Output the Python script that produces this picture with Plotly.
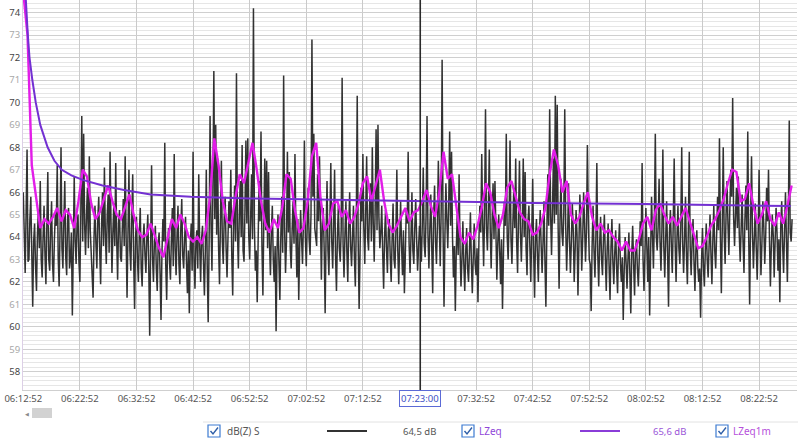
import plotly.graph_objects as go
from datetime import datetime, timedelta

# ---------------- data ----------------
START = "2021-01-01 06:12:52"
DBZ_STEP_S = 10
LZEQ1M_STEP_S = 45

dbz_s = [
    66.0, 64.2, 62.4, 65.1, 67.9, 62.9, 63.0, 64.8, 65.8, 63.3, 60.9, 63.8, 64.6, 62.7, 61.6, 64.1, 65.2, 63.5, 66.5, 63.0,
    62.2, 64.0, 65.4, 63.2, 61.9, 64.6, 66.9, 63.0, 62.5, 64.3, 65.6, 62.8, 62.0, 63.9, 65.1, 64.5, 67.2, 63.1, 61.8, 64.4,
    68.0, 63.5, 62.6, 64.7, 66.5, 63.1, 62.3, 64.9, 65.3, 62.6, 63.0, 64.2, 60.5, 63.4, 66.7, 63.8, 62.8, 64.6, 65.0, 62.9,
    62.0, 65.1, 69.4, 63.8, 68.6, 64.6, 63.2, 65.0, 66.2, 63.5, 67.6, 64.3, 63.0, 62.5, 61.3, 64.0, 65.4, 63.7, 62.6, 64.8,
    65.8, 63.4, 61.9, 64.5, 66.0, 63.6, 67.1, 64.1, 62.8, 65.0, 65.9, 63.3, 67.8, 64.6, 62.4, 64.2, 65.5, 63.6, 67.3, 63.9,
    62.1, 64.6, 65.2, 63.1, 62.9, 64.4, 65.7, 63.6, 67.6, 64.0, 61.3, 64.2, 67.0, 63.4, 62.5, 64.8, 66.8, 63.0, 60.8, 63.9,
    64.9, 63.0, 62.0, 64.1, 65.3, 62.6, 61.8, 63.9, 64.6, 63.2, 62.4, 64.0, 65.0, 62.7, 59.6, 63.5, 67.2, 63.1, 62.0, 63.8,
    64.5, 62.6, 61.6, 63.7, 64.2, 62.4, 60.3, 63.3, 64.8, 63.8, 68.2, 62.8, 61.2, 63.6, 64.4, 62.9, 62.1, 63.9, 65.3, 62.7,
    67.7, 63.5, 62.3, 64.1, 65.4, 62.8, 61.9, 64.4, 65.7, 63.2, 62.6, 63.9, 64.9, 62.9, 61.5, 63.4, 60.6, 63.6, 64.6, 62.5,
    67.8, 63.0, 61.7, 63.8, 64.3, 62.6, 66.8, 63.6, 62.0, 63.9, 64.5, 62.9, 61.4, 63.4, 67.0, 62.7, 60.2, 63.8, 69.4, 64.6,
    62.5, 66.0, 71.4, 64.8, 69.0, 64.1, 67.5, 63.6, 61.9, 64.6, 67.4, 63.8, 62.8, 64.9, 65.8, 63.5, 62.2, 64.0, 65.6, 64.4,
    67.0, 63.2, 61.4, 64.5, 66.3, 63.8, 71.3, 64.3, 62.6, 65.0, 66.5, 64.0, 68.1, 63.4, 62.9, 65.2, 68.3, 64.6, 68.4, 64.1,
    63.0, 64.8, 66.8, 63.9, 74.2, 64.5, 62.5, 63.4, 61.1, 63.9, 66.5, 64.7, 68.7, 63.6, 61.4, 64.8, 67.5, 64.3, 67.4, 63.5,
    66.9, 63.7, 62.3, 64.2, 65.4, 63.0, 62.0, 63.6, 59.8, 63.4, 65.0, 62.9, 61.2, 64.0, 65.8, 63.3, 71.2, 64.4, 62.4, 63.8,
    67.8, 64.2, 66.9, 63.5, 62.6, 64.3, 65.6, 63.7, 67.7, 64.1, 62.2, 64.8, 61.2, 63.6, 65.2, 63.9, 62.8, 64.7, 68.3, 64.0,
    62.7, 64.5, 66.2, 63.9, 63.2, 65.0, 72.8, 65.8, 68.6, 64.4, 64.0, 63.6, 66.8, 64.7, 67.6, 63.8, 62.1, 64.6, 65.3, 63.4,
    60.6, 64.2, 66.5, 63.4, 62.3, 64.7, 67.3, 63.8, 62.6, 64.5, 67.0, 63.2, 61.6, 64.0, 65.4, 63.5, 62.9, 64.3, 71.1, 63.7,
    62.2, 64.1, 65.6, 63.4, 62.0, 64.4, 66.0, 63.6, 62.7, 64.0, 65.4, 63.1, 61.8, 64.5, 70.3, 63.9, 60.8, 63.3, 66.2, 64.7,
    67.7, 64.4, 62.8, 65.1, 67.6, 64.0, 63.4, 65.3, 66.4, 63.8, 68.0, 64.6, 62.9, 65.2, 68.8, 64.3, 69.0, 64.9, 63.5, 64.2,
    65.4, 63.3, 61.7, 64.0, 65.2, 63.5, 62.4, 64.3, 64.8, 63.1, 62.0, 63.9, 65.5, 63.0, 62.6, 64.2, 67.0, 63.4, 61.9, 63.8,
    65.6, 63.6, 62.3, 64.3, 61.5, 63.2, 65.3, 64.6, 67.8, 63.7, 62.4, 64.0, 66.0, 63.4, 62.8, 64.4, 65.7, 63.9, 62.5, 63.5,
    64.5, 64.0, 62.9, 64.6, 67.1, 63.7, 63.1, 65.0, 69.4, 64.1, 62.6, 64.4, 65.9, 63.6, 61.5, 64.9, 66.3, 63.8, 62.8, 64.5,
    67.4, 64.6, 62.7, 65.2, 71.9, 64.3, 60.9, 64.1, 66.4, 64.8, 63.5, 65.4, 68.7, 64.5, 67.8, 64.0, 62.2, 63.6, 60.7, 63.4,
    65.0, 63.2, 66.8, 63.5, 61.8, 63.0, 64.7, 62.8, 61.6, 63.3, 64.4, 62.6, 62.0, 63.4, 65.1, 62.9, 61.5, 63.1, 64.6, 62.8,
    62.3, 63.5, 61.1, 63.8, 65.4, 64.2, 67.7, 64.6, 62.7, 65.0, 69.7, 64.4, 63.4, 65.1, 67.9, 64.3, 62.6, 64.7, 66.4, 63.9,
    66.5, 64.3, 62.1, 63.7, 65.0, 63.4, 61.9, 63.9, 60.8, 63.2, 65.6, 64.5, 68.6, 64.0, 63.0, 64.8, 68.3, 63.9, 62.8, 64.6,
    66.2, 64.4, 67.5, 63.8, 62.4, 64.9, 67.4, 64.2, 62.9, 64.6, 67.5, 64.0, 66.9, 63.5, 62.3, 64.7, 65.4, 63.6, 62.0, 64.1,
    66.6, 63.4, 61.3, 63.9, 64.8, 63.2, 62.0, 64.0, 65.2, 63.6, 62.4, 63.8, 65.6, 62.9, 60.9, 64.2, 66.8, 64.5, 69.7, 65.0,
    63.2, 65.3, 67.5, 64.6, 70.3, 65.0, 69.9, 64.4, 61.7, 64.8, 66.6, 64.2, 63.6, 65.1, 69.7, 64.5, 62.5, 64.0, 66.4, 63.9,
    62.4, 63.8, 65.5, 64.3, 62.0, 63.4, 65.2, 64.1, 61.4, 63.6, 65.9, 64.5, 62.5, 63.9, 66.0, 64.6, 62.9, 64.2, 68.1, 64.8,
    63.0, 62.8, 60.7, 63.6, 65.4, 63.4, 62.2, 64.0, 67.3, 63.2, 61.8, 63.7, 64.9, 63.0, 62.3, 63.9, 65.0, 63.1, 61.6, 63.5,
    64.6, 62.7, 61.2, 63.5, 64.8, 62.9, 61.9, 63.3, 64.3, 62.6, 61.5, 63.6, 64.6, 62.8, 62.0, 63.1, 60.3, 62.5, 64.0, 62.9,
    61.7, 63.0, 64.2, 62.4, 60.6, 63.2, 64.5, 62.8, 61.4, 63.4, 63.9, 62.6, 61.8, 63.1, 64.7, 63.6, 67.3, 63.0, 61.6, 63.3,
    65.3, 63.6, 62.0, 64.0, 60.5, 63.2, 65.8, 64.1, 62.6, 64.7, 68.6, 64.0, 63.4, 64.5, 66.6, 63.8, 62.5, 64.3, 67.9, 63.6,
    62.2, 63.9, 65.6, 63.3, 60.9, 64.2, 65.2, 63.6, 62.4, 64.6, 67.5, 63.8, 62.0, 64.0, 65.4, 63.5, 62.8, 64.4, 68.0, 63.7,
    62.4, 63.9, 65.8, 63.2, 61.9, 64.3, 67.8, 63.5, 62.3, 63.8, 64.8, 62.9, 61.6, 63.4, 64.3, 62.7, 62.0, 62.6, 60.4, 62.9,
    64.4, 62.7, 61.8, 63.4, 64.6, 63.0, 62.2, 63.6, 65.0, 63.2, 61.9, 63.9, 65.4, 63.4, 62.6, 64.1, 65.8, 64.3, 68.4, 64.0,
    61.5, 64.5, 68.0, 64.2, 62.8, 65.0, 66.5, 64.6, 63.2, 65.3, 67.0, 65.8, 70.2, 64.9, 63.6, 65.0, 66.2, 64.4, 66.7, 64.1,
    62.9, 64.4, 65.9, 63.8, 62.4, 64.8, 66.3, 64.3, 68.7, 64.0, 61.0, 64.6, 67.6, 64.2, 62.6, 63.9, 65.5, 63.5, 62.1, 64.0,
    67.0, 64.2, 62.3, 63.7, 65.6, 64.5, 62.8, 64.0, 66.2, 64.7, 67.0, 63.9, 61.8, 63.6, 65.0, 64.1, 62.2, 63.8, 65.3, 64.2,
    62.5, 63.9, 61.1, 64.5, 65.6, 63.6, 62.4, 64.3, 66.0, 63.8, 62.0, 64.6, 69.2, 64.2, 63.8, 64.8,
]

lzeq1m = [
    74.9, 73.0, 67.2, 65.7, 64.4, 64.8, 64.6, 64.9, 65.3, 64.7,
    65.2, 65.0, 64.4, 65.6, 67.0, 66.7, 65.5, 64.8, 65.1, 65.7,
    66.3, 65.6, 65.0, 64.8, 65.4, 65.9, 65.0, 64.3, 64.0, 64.1,
    64.6, 64.0, 63.5, 63.1, 64.0, 64.8, 64.4, 65.0, 64.6, 64.0,
    63.8, 64.0, 63.7, 64.3, 65.8, 68.4, 67.2, 65.6, 64.7, 64.6,
    65.8, 66.8, 66.4, 67.3, 68.2, 67.0, 65.6, 64.6, 64.2, 64.8,
    64.4, 65.3, 66.8, 66.6, 65.2, 64.2, 64.4, 65.6, 67.6, 68.2,
    65.8, 64.3, 64.6, 65.5, 65.6, 64.9, 65.2, 64.6, 64.9, 65.5,
    66.4, 66.7, 65.6, 66.3, 67.0, 65.6, 64.6, 64.2, 64.5, 64.9,
    65.3, 64.7, 65.1, 65.2, 65.6, 66.1, 65.4, 64.9, 66.0, 67.8,
    66.6, 66.8, 65.4, 64.0, 63.7, 64.2, 63.9, 64.5, 65.3, 66.4,
    66.0, 65.0, 64.4, 65.0, 66.2, 66.5, 65.8, 65.1, 64.8, 64.7,
    64.1, 64.2, 64.6, 65.3, 66.8, 67.9, 67.2, 66.0, 66.5, 65.0,
    64.6, 64.9, 65.5, 66.0, 64.9, 64.3, 64.6, 64.2, 64.3, 64.0,
    63.8, 63.4, 63.8, 63.4, 63.4, 63.9, 64.6, 64.9, 64.3, 65.2,
    65.5, 65.0, 64.6, 64.9, 64.5, 64.9, 65.3, 64.7, 64.1, 63.5,
    63.6, 64.0, 64.5, 64.8, 65.2, 65.7, 66.4, 67.0, 66.9, 65.6,
    65.7, 66.4, 65.4, 64.6, 65.0, 65.6, 64.8, 64.5, 65.1, 64.6,
    65.4, 66.3,
]

lzeq_minutes = [0, 0.4, 0.8, 1.1, 1.6, 2.2, 3.0, 4.3, 5.5, 6.8, 8.5,
                10.5, 14, 17.8, 22.5, 29.6, 40, 55, 70, 90, 110, 135.6]
lzeq_values = [76.0, 74.8, 73.0, 72.0, 71.0, 70.0, 69.0, 68.0, 67.4, 67.0, 66.75,
               66.55, 66.3, 66.1, 65.9, 65.8, 65.72, 65.65, 65.6, 65.52, 65.47, 65.38]

x_tick_labels = ["06:12:52", "06:22:52", "06:32:52", "06:42:52", "06:52:52",
                 "07:02:52", "07:12:52", "07:32:52", "07:42:52", "07:52:52",
                 "08:02:52", "08:12:52", "08:22:52"]
y_tick_values = list(range(58, 75))
cursor_label = "07:23:00"
series_names = ["dB(Z) S", "LZeq", "LZeq1m"]
cursor_readouts = ["64,5 dB", "65,6 dB"]

# ---------------- helpers ----------------
t0 = datetime.strptime(START, "%Y-%m-%d %H:%M:%S")
day = t0.date()

def at(hms):
    return datetime.combine(day, datetime.strptime(hms, "%H:%M:%S").time())

x_dbz = [t0 + timedelta(seconds=DBZ_STEP_S * i) for i in range(len(dbz_s))]
x_1m = [t0 + timedelta(seconds=LZEQ1M_STEP_S * i) for i in range(len(lzeq1m))]
x_leq = [t0 + timedelta(minutes=m) for m in lzeq_minutes]
tickvals = [at(s) for s in x_tick_labels]
cursor_t = at(cursor_label)

W, H = 798, 439
ML, MR, MT, MB = 23, 1, 0, 49
PW, PH = W - ML - MR, H - MT - MB

def px(x):
    return (x - ML) / PW

def py(y):
    return (MT + PH - y) / PH

DARK = "#323232"
MAGENTA = "#e21de8"
PURPLE = "#7330d2"
FONT = "Segoe UI, Noto Sans, sans-serif"

fig = go.Figure()
fig.add_trace(go.Scatter(x=x_dbz, y=dbz_s, mode="lines",
                         line=dict(color=DARK, width=1.5), name=series_names[0]))
fig.add_trace(go.Scatter(x=x_1m, y=lzeq1m, mode="lines",
                         line=dict(color=MAGENTA, width=2.4), name=series_names[2]))
fig.add_trace(go.Scatter(x=x_leq, y=lzeq_values, mode="lines",
                         line=dict(color=PURPLE, width=2.0), name=series_names[1]))

ytext = []
for v in y_tick_values:
    col = "#444444" if v % 2 == 0 else "#a8a8a8"
    ytext.append(f'<span style="color:{col}">{v}</span>')

minor_vals = [round(57.2 + 0.2 * k, 1) for k in range(0, 88)]

fig.update_layout(
    width=W, height=H,
    margin=dict(l=ML, r=MR, t=MT, b=MB, autoexpand=False),
    paper_bgcolor="white", plot_bgcolor="white",
    showlegend=False,
    font=dict(family=FONT, size=9.5, color="#555555"),
    xaxis=dict(
        type="date", automargin=False,
        range=[at("06:12:49"), at("08:29:34")],
        tickmode="array", tickvals=tickvals, ticktext=x_tick_labels,
        showgrid=True, gridcolor="#cacaca", gridwidth=1,
        showline=True, linecolor="#cfcfcf", linewidth=1,
        ticks="", zeroline=False,
        tickfont=dict(family=FONT, size=9.5, color="#555555"),
    ),
    yaxis=dict(
        automargin=False,
        range=[57.184, 74.566],
        tickmode="array", tickvals=y_tick_values, ticktext=ytext,
        showgrid=True, gridcolor="#cfcfcf", gridwidth=1,
        minor=dict(tickmode="array", tickvals=minor_vals, showgrid=True,
                   gridcolor="#e6e6e6", gridwidth=1, ticks=""),
        showline=True, linecolor="#dccfe6", linewidth=1,
        ticks="", zeroline=False,
        tickfont=dict(family=FONT, size=9.5),
    ),
)

shapes = []
# cursor
shapes.append(dict(type="line", xref="x", yref="paper", x0=cursor_t, x1=cursor_t,
                   y0=0, y1=1, line=dict(color="#2a2a2a", width=1.6)))
# scrollbar thumb
shapes.append(dict(type="rect", xref="paper", yref="paper",
                   x0=px(32), x1=px(52), y0=py(418), y1=py(408),
                   line=dict(width=0), fillcolor="#d2d2d2"))
# legend strip top border
shapes.append(dict(type="line", xref="paper", yref="paper",
                   x0=px(203), x1=px(798), y0=py(422), y1=py(422),
                   line=dict(color="#e2e2e2", width=1)))

def checkbox(cx, cy):
    s = 6
    shapes.append(dict(type="rect", xref="paper", yref="paper",
                       x0=px(cx - s), x1=px(cx + s), y0=py(cy + s), y1=py(cy - s),
                       line=dict(color="#3d7bd1", width=1.2), fillcolor="white"))
    path = (f"M {px(cx - 3.5)},{py(cy)} L {px(cx - 1)},{py(cy + 3)} "
            f"L {px(cx + 4)},{py(cy - 3.5)}")
    shapes.append(dict(type="path", xref="paper", yref="paper", path=path,
                       line=dict(color="#2f5fa8", width=1.4)))

LEG_Y = 431
checkbox(214, LEG_Y)
checkbox(468, LEG_Y)
checkbox(722, LEG_Y)
shapes.append(dict(type="line", xref="paper", yref="paper",
                   x0=px(327), x1=px(367), y0=py(LEG_Y), y1=py(LEG_Y),
                   line=dict(color=DARK, width=2)))
shapes.append(dict(type="line", xref="paper", yref="paper",
                   x0=px(580), x1=px(620), y0=py(LEG_Y), y1=py(LEG_Y),
                   line=dict(color="#8a3cd8", width=2)))
fig.update_layout(shapes=shapes)

ann = []
ann.append(dict(x=cursor_t, xref="x", y=py(399), yref="paper", text=cursor_label,
                showarrow=False, font=dict(family=FONT, size=9.5, color="#3d4fc4"),
                bordercolor="#5b6ad6", borderwidth=1, borderpad=1,
                xanchor="center", yanchor="middle"))
ann.append(dict(x=px(27), y=py(414), xref="paper", yref="paper", text="◀",
                showarrow=False, font=dict(size=5, color="#8a8a8a"),
                xanchor="center", yanchor="middle"))

def label(x, text, color, size=10):
    ann.append(dict(x=px(x), y=py(LEG_Y), xref="paper", yref="paper", text=text,
                    showarrow=False, xanchor="left", yanchor="middle",
                    font=dict(family=FONT, size=size, color=color)))

label(225, series_names[0], "#555555")
label(401, cursor_readouts[0], "#555555", 9.5)
label(477, series_names[1], "#9046d8")
label(651, cursor_readouts[1], "#9a55d8", 9.5)
label(731, series_names[2], "#b64fdb")
fig.update_layout(annotations=ann)

fig.write_html("out.html", config={"displayModeBar": False},
               post_script="document.body.style.margin='0px';")
